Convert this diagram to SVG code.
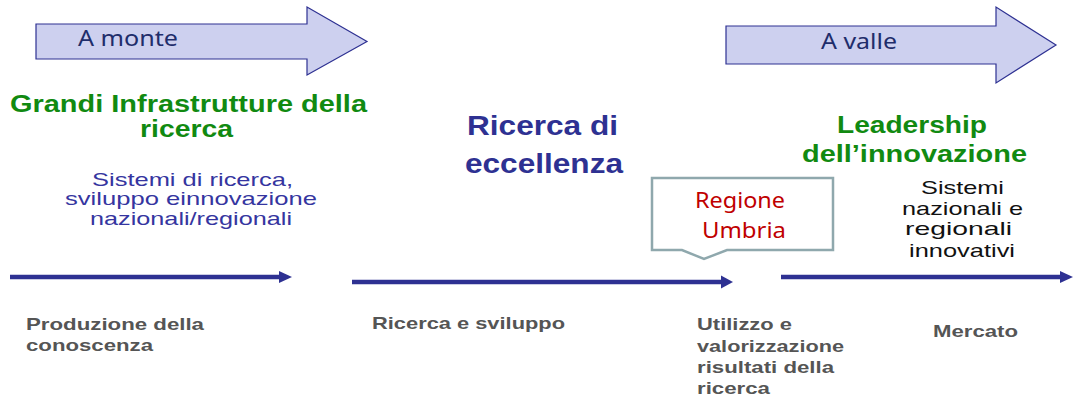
<svg xmlns="http://www.w3.org/2000/svg" width="1073" height="402" viewBox="0 0 1073 402">
<style>
.bigarrow{fill:#cdd0ef;stroke:#2e3192;stroke-width:1.2}
.lbl{font-family:"Noto Sans","Open Sans",sans-serif;fill:#1f2d6b;font-size:21px}
.green{font-family:"Liberation Sans",Arial,sans-serif;font-weight:bold;fill:#118a11;font-size:23px}
.navy{font-family:"Liberation Sans",Arial,sans-serif;font-weight:bold;fill:#2e3192;font-size:28px}
.blue{font-family:"Liberation Sans",Arial,sans-serif;fill:#3535a0;font-size:19px}
.black{font-family:"Liberation Sans",Arial,sans-serif;fill:#111;font-size:19px}
.gray{font-family:"Liberation Sans",Arial,sans-serif;font-weight:bold;fill:#555;font-size:17px}
.red{font-family:"Noto Sans","Open Sans",sans-serif;fill:#c00000;font-size:21px}
.line{stroke:#2e3192;stroke-width:4.5;fill:none}
.head{fill:#2e3192}
</style>
<rect width="1073" height="402" fill="#fff"/>
<g id="arrow-monte">
<polygon class="bigarrow" points="36,24 307,24 307,7 367,41.5 307,75 307,59 36,59"/>
<text class="lbl" x="78" y="46" textLength="100" lengthAdjust="spacingAndGlyphs">A monte</text>
</g>
<g id="arrow-valle">
<polygon class="bigarrow" points="726,26 996,26 996,7 1056,45 996,83 996,64 726,64"/>
<text class="lbl" x="821" y="49" textLength="76" lengthAdjust="spacingAndGlyphs">A valle</text>
</g>
<g id="grandi">
<text class="green" x="10" y="112" textLength="357" lengthAdjust="spacingAndGlyphs">Grandi Infrastrutture della</text>
<text class="green" x="140" y="137" textLength="93" lengthAdjust="spacingAndGlyphs">ricerca</text>
</g>
<g id="sistemi-ricerca">
<text class="blue" x="92" y="186" textLength="201" lengthAdjust="spacingAndGlyphs">Sistemi di ricerca,</text>
<text class="blue" x="65" y="205" textLength="252" lengthAdjust="spacingAndGlyphs">sviluppo einnovazione</text>
<text class="blue" x="90" y="225" textLength="202" lengthAdjust="spacingAndGlyphs">nazionali/regionali</text>
</g>
<g id="ricerca-eccellenza">
<text class="navy" x="467" y="135" textLength="151" lengthAdjust="spacingAndGlyphs">Ricerca di</text>
<text class="navy" x="465" y="173" textLength="158" lengthAdjust="spacingAndGlyphs">eccellenza</text>
</g>
<g id="leadership">
<text class="green" x="837" y="133" textLength="150" lengthAdjust="spacingAndGlyphs">Leadership</text>
<text class="green" x="802" y="162" textLength="225" lengthAdjust="spacingAndGlyphs">dell’innovazione</text>
</g>
<g id="regione-umbria">
<polygon points="652,178 833,178 833,250 727,250 704,259 682,250 652,250" fill="#fff" stroke="#8fa8ad" stroke-width="2.5"/>
<text class="red" x="695" y="208" textLength="90" lengthAdjust="spacingAndGlyphs">Regione</text>
<text class="red" x="702" y="238" textLength="84" lengthAdjust="spacingAndGlyphs">Umbria</text>
</g>
<g id="sistemi-innovativi">
<text class="black" x="921" y="194" textLength="83" lengthAdjust="spacingAndGlyphs">Sistemi</text>
<text class="black" x="902" y="215" textLength="121" lengthAdjust="spacingAndGlyphs">nazionali e</text>
<text class="black" x="905" y="235" textLength="107" lengthAdjust="spacingAndGlyphs">regionali</text>
<text class="black" x="909" y="257" textLength="106" lengthAdjust="spacingAndGlyphs">innovativi</text>
</g>
<g id="connectors">
<line class="line" x1="10" y1="277" x2="281" y2="277"/>
<polygon class="head" points="279,271 292,277 279,283"/>
<line class="line" x1="352" y1="282" x2="723" y2="282"/>
<polygon class="head" points="721,275.5 733,282 721,288.5"/>
<line class="line" x1="781" y1="277" x2="1062" y2="277"/>
<polygon class="head" points="1060,271 1073,277 1060,283"/>
</g>
<g id="produzione">
<text class="gray" x="26" y="330" textLength="178" lengthAdjust="spacingAndGlyphs">Produzione della</text>
<text class="gray" x="26" y="351" textLength="127" lengthAdjust="spacingAndGlyphs">conoscenza</text>
</g>
<g id="ricerca-sviluppo">
<text class="gray" x="372" y="329" textLength="193" lengthAdjust="spacingAndGlyphs">Ricerca e sviluppo</text>
</g>
<g id="utilizzo">
<text class="gray" x="697" y="330" textLength="95" lengthAdjust="spacingAndGlyphs">Utilizzo e</text>
<text class="gray" x="697" y="352" textLength="147" lengthAdjust="spacingAndGlyphs">valorizzazione</text>
<text class="gray" x="697" y="373" textLength="137" lengthAdjust="spacingAndGlyphs">risultati della</text>
<text class="gray" x="697" y="394" textLength="73" lengthAdjust="spacingAndGlyphs">ricerca</text>
</g>
<g id="mercato">
<text class="gray" x="933" y="337" textLength="85" lengthAdjust="spacingAndGlyphs">Mercato</text>
</g>
</svg>
